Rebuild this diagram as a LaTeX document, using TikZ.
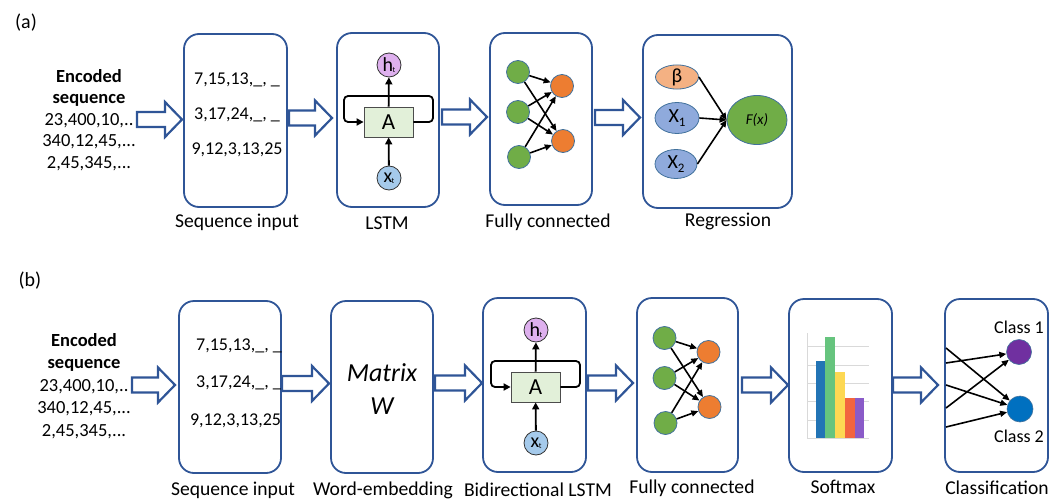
\documentclass[tikz,border=0pt]{standalone}
\usepackage{fontspec}
\setmainfont{Carlito}
\usetikzlibrary{arrows.meta,calc,shapes.geometric}
\definecolor{bordB}{RGB}{47,85,151}
\definecolor{nodeB}{RGB}{65,113,156}
\definecolor{gN}{RGB}{112,173,71}
\definecolor{oN}{RGB}{237,125,49}
\definecolor{betaC}{RGB}{244,177,131}
\definecolor{xC}{RGB}{143,170,220}
\definecolor{hC}{RGB}{222,176,238}
\definecolor{xtC}{RGB}{165,202,235}
\definecolor{aC}{RGB}{226,240,217}
\definecolor{gridC}{RGB}{217,217,217}
\definecolor{barB}{RGB}{34,116,181}
\definecolor{barG}{RGB}{102,196,126}
\definecolor{barY}{RGB}{253,216,83}
\definecolor{barR}{RGB}{242,100,63}
\definecolor{barP}{RGB}{138,91,200}
\definecolor{cls1}{RGB}{112,48,160}
\definecolor{cls2}{RGB}{0,112,192}
\newcommand\fs[1]{\fontsize{#1}{#1}\selectfont}
\tikzset{
  panel/.style={draw=bordB, line width=1.8pt, rounded corners=15pt, fill=white, inner sep=0pt},
  lbl/.style={font=\fs{19.6}, inner sep=0pt},
  num/.style={font=\fs{18}, inner sep=0pt},
  neuron/.style={circle, draw=nodeB, line width=0.8pt, minimum size=23pt, inner sep=0pt},
  conn/.style={line width=1.6pt, -{Triangle[length=7pt,width=6pt]}},
  lstmarr/.style={line width=1.8pt, -{Triangle[length=7pt,width=7pt]}},
  cellbox/.style={draw=black!70, line width=0.8pt, fill=aC, minimum width=49pt, minimum height=30pt, inner sep=0pt, font=\fs{23}},
  smallcirc/.style={circle, draw=black!80, line width=0.8pt, minimum size=24pt, inner sep=0pt, font=\fs{20}},
  regell/.style={ellipse, draw=nodeB, line width=0.8pt, inner sep=0pt, font=\fs{20}},
  harrline/.style={line width=2.2pt, draw=bordB, fill=white, line join=miter},
  pics/harrow/.style={code={
    \draw[harrline] (0,-7.5) -- ({#1-17},-7.5) -- ({#1-17},-17.5) -- (#1,0) -- ({#1-17},17.5) -- ({#1-17},7.5) -- (0,7.5) -- cycle;
  }},
  pics/lstmcell/.style={code={
    \node[cellbox] (-A) at (0.5,2) {A};
    \node[smallcirc, fill=hC] (-h) at (1,-55) {h\hspace{-0.5pt}\raisebox{-1pt}{\fs{8}t}};
    \node[smallcirc, fill=xtC] (-x) at (1,58) {x\hspace{-0.5pt}\raisebox{-1pt}{\fs{8}t}};
    \draw[lstmarr] (-x) -- (-A);
    \draw[lstmarr] (-A) -- (-h);
    \draw[lstmarr, rounded corners=4pt] (-A.east) -- (45,2) -- (45,-24) -- (-44,-24) -- (-44,2) -- (-A.west);
  }},
  pics/fcnet/.style={code={
    \node[neuron, fill=gN] (-g1) at (-23,-47) {};
    \node[neuron, fill=gN] (-g2) at (-23,-7) {};
    \node[neuron, fill=gN] (-g3) at (-22,38) {};
    \node[neuron, fill=oN] (-o1) at (21,-33) {};
    \node[neuron, fill=oN] (-o2) at (22,22) {};
    \foreach \g in {1,2,3} {\foreach \o in {1,2} {\draw[conn] (-g\g) -- (-o\o);}}
  }}
}
\begin{document}
\begin{tikzpicture}[x=1pt,y=-1pt]
\useasboundingbox (0,0) rectangle (1064,500);
% ---------------- (a) ----------------
\node[font=\fs{20}, inner sep=0pt] (labA) at (26,23) {(a)};
\node[font=\fontsize{18.5}{21.5}\selectfont, align=center, inner sep=0pt] (encA) at (89,120)
  {\textbf{Encoded}\\\textbf{sequence}\\23,400,10,..\\340,12,45,...\\2,45,345,...};
\node[panel, minimum width=103pt, minimum height=173pt] (seqA) at (235.5,120.5) {};
\node[num] (sA1) at (237,80) {7,15,13,\_, \_};
\node[num] (sA2) at (237,115) {3,17,24,\_, \_};
\node[num] (sA3) at (237,150) {9,12,3,13,25};
\node[lbl] (seqAl) at (237,222) {Sequence input};

\node[panel, minimum width=102pt, minimum height=174pt] (lstmA) at (388,120) {};
\pic (cellA) at (388,120) {lstmcell};
\node[lbl] (lstmAl) at (387,223) {LSTM};

\node[panel, minimum width=102pt, minimum height=172pt] (fcA) at (541,119) {};
\pic (netA) at (541,119) {fcnet};
\node[lbl] (fcAl) at (548,222) {Fully connected};

\node[panel, minimum width=149pt, minimum height=173pt] (regA) at (717.5,121.5) {};
\node[regell, fill=betaC, minimum width=43pt, minimum height=24pt] (beta) at (677,77) {β};
\node[regell, fill=xC, minimum width=44pt, minimum height=31pt] (x1) at (677,118) {X\raisebox{-4pt}{\fs{13}1}};
\node[regell, fill=xC, minimum width=42pt, minimum height=29pt] (x2) at (676,164) {X\raisebox{-4pt}{\fs{13}2}};
\node[regell, fill=gN, minimum width=60pt, minimum height=49pt, font=\fs{15}\itshape] (F) at (757,120) {F(x)};
\draw[conn] (beta.east) -- (F.west);
\draw[conn] (x1.east) -- (F.west);
\draw[conn] (x2.east) -- (F.west);
\node[lbl] (regAl) at (728,221) {Regression};

\pic at (137,119.5) {harrow=45};
\pic at (289,118) {harrow=43};
\pic at (442,117) {harrow=45};
\pic at (595,117.5) {harrow=45};

% ---------------- (b) ----------------
\node[font=\fs{20}, inner sep=0pt] (labB) at (30,281) {(b)};
\node[font=\fontsize{18.5}{22.5}\selectfont, align=center, inner sep=0pt] (encB) at (84,386)
  {\textbf{Encoded}\\\textbf{sequence}\\23,400,10,..\\340,12,45,...\\2,45,345,...};
\node[panel, minimum width=102pt, minimum height=172pt] (seqB) at (230,387) {};
\node[num] (sB1) at (239,346) {7,15,13,\_, \_};
\node[num] (sB2) at (239,383) {3,17,24,\_, \_};
\node[num] (sB3) at (235.5,421) {9,12,3,13,25};
\node[lbl] (seqBl) at (233,490) {Sequence input};

\node[panel, minimum width=102pt, minimum height=172pt] (embB) at (382,387) {};
\node[font=\fontsize{26}{33}\selectfont\itshape, align=center, inner sep=0pt] (mat) at (382,389) {Matrix\\W};
\node[lbl] (embBl) at (383,490) {Word-embedding};

\node[panel, minimum width=103pt, minimum height=174pt] (lstmB) at (534.5,385) {};
\pic (cellB) at (535,385) {lstmcell};
\node[lbl] (lstmBl) at (538,490) {Bidirectional LSTM};

\node[panel, minimum width=101pt, minimum height=174pt] (fcB) at (687.5,385) {};
\pic (netB) at (687.5,385) {fcnet};
\node[lbl] (fcBl) at (692,488) {Fully connected};

\node[panel, minimum width=103pt, minimum height=173pt] (smB) at (840.5,385.5) {};
\foreach \yy in {346,365,383,401,420,438} {\draw[gridC, line width=1pt] (807,\yy) -- (869,\yy);}
\draw[gridC, line width=1pt] (807,333) -- (807,438);
\fill[barB] (816,361) rectangle (825,438);
\fill[barG] (825,337) rectangle (835,438);
\fill[barY] (835,372) rectangle (845,438);
\fill[barR] (845,398) rectangle (855,438);
\fill[barP] (855,398) rectangle (864,438);
\node[lbl] (smBl) at (843,487) {Softmax};

\node[panel, minimum width=103pt, minimum height=173pt] (clsB) at (996.5,385.5) {};
\node[circle, fill=cls1, draw=nodeB, line width=0.6pt, minimum size=25pt, inner sep=0pt] (c1) at (1019,352) {};
\node[circle, fill=cls2, draw=nodeB, line width=0.6pt, minimum size=26pt, inner sep=0pt] (c2) at (1020,409) {};
\node[font=\fs{18}, inner sep=0pt] (c1l) at (1019,327) {Class 1};
\node[font=\fs{18}, inner sep=0pt] (c2l) at (1019,436) {Class 2};
\coordinate (k1) at (946,348);
\coordinate (k2) at (946,363);
\coordinate (k3) at (946,385);
\coordinate (k4) at (946,408);
\coordinate (k5) at (946,427);
\draw[conn] (k1) -- (c2);
\draw[conn] (k2) -- (c1);
\draw[conn] (k3) -- (c2);
\draw[conn] (k4) -- (c1);
\draw[conn] (k5) -- (c2);
\node[lbl] (clsBl) at (997,488) {Classification};

\pic at (132,385) {harrow=43};
\pic at (282,383.5) {harrow=47};
\pic at (435,383) {harrow=47};
\pic at (588,383) {harrow=45};
\pic at (742,385) {harrow=46};
\pic at (893,385) {harrow=45};
\end{tikzpicture}
\end{document}
